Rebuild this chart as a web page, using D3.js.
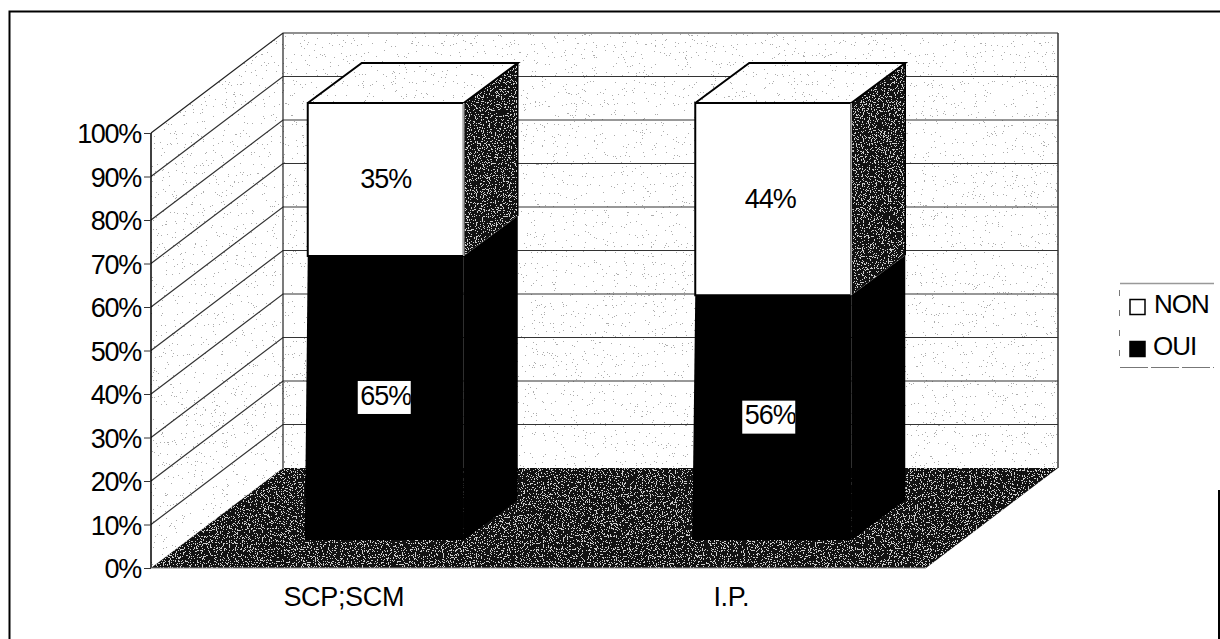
<!DOCTYPE html>
<html><head><meta charset="utf-8">
<script src="https://cdnjs.cloudflare.com/ajax/libs/d3/7.8.5/d3.min.js"></script>
<style>html,body{margin:0;padding:0;background:#fff}svg{display:block}text{font-family:"Liberation Sans",Arial,sans-serif;fill:#000}</style>
</head><body><div id="c"></div>
<script>
const categories = ["SCP;SCM", "I.P."];
const oui = [65, 56];
const non = [35, 44];
const legendLabels = ["NON", "OUI"];
const tickValues = [0,10,20,30,40,50,60,70,80,90,100];

const W=1220,H=639;
const svg=d3.select("#c").append("svg").attr("width",W).attr("height",H);
const defs=svg.append("defs");
function noise(id,seed,freq,thr,grey){
  const slope=-5, a=0.5+5*thr;
  const f=defs.append("filter").attr("id",id).attr("x",0).attr("y",0).attr("width","100%").attr("height","100%").attr("color-interpolation-filters","sRGB");
  f.append("feTurbulence").attr("type","fractalNoise").attr("baseFrequency",freq).attr("numOctaves",2).attr("seed",seed).attr("result","n");
  f.append("feColorMatrix").attr("in","n").attr("type","matrix")
   .attr("values",`0 0 0 0 ${grey} 0 0 0 0 ${grey} 0 0 0 0 ${grey} ${slope} 0 0 0 ${a}`).attr("result","s");
  f.append("feComponentTransfer").attr("in","s").attr("result","t").append("feFuncA").attr("type","discrete").attr("tableValues","0 1");
  f.append("feComposite").attr("in","t").attr("in2","SourceGraphic").attr("operator","in").attr("result","d");
  const m=f.append("feMerge");
  m.append("feMergeNode").attr("in","SourceGraphic");
  m.append("feMergeNode").attr("in","d");
}
noise("darkStipple",3,0.85,0.40,0.8);
noise("lightStipple",7,0.9,0.265,0.68);

// scales
const y=d3.scaleLinear().domain([0,100]).range([568,133]);
const yBar=d3.scaleLinear().domain([0,100]).range([540,103]);
const x=d3.scaleBand().domain(categories).range([150,925]);
const depth={dx:132,dy:-100};
const bar={dx:54,dy:-40,w:156,off:42};
const line=d3.line();
const poly=(g,pts,fill,stroke,sw,filter)=>{
  const p=g.append("path").attr("d",line(pts)+"Z").attr("fill",fill).attr("stroke",stroke||"none").attr("stroke-width",sw||0).attr("stroke-linejoin","miter");
  if(filter)p.attr("filter",`url(#${filter})`);
  return p;
};
const g=svg.append("g");
// outer frame
g.append("path").attr("d","M9.5,639V11.5H1220").attr("fill","none").attr("stroke","#000").attr("stroke-width",2);
g.append("path").attr("d","M1219,490V639").attr("fill","none").attr("stroke","#000").attr("stroke-width",2);

const x0=151,x1=926;
// walls
poly(g,[[x0,y(0)],[x0,y(100)],[x0+depth.dx,y(100)+depth.dy],[x0+depth.dx,y(0)+depth.dy]],"#fff",null,0,"lightStipple");
poly(g,[[x0+depth.dx,y(100)+depth.dy],[x1+depth.dx,y(100)+depth.dy],[x1+depth.dx,y(0)+depth.dy],[x0+depth.dx,y(0)+depth.dy]],"#fff",null,0,"lightStipple");
// floor
poly(g,[[x0,y(0)],[x0+depth.dx,y(0)+depth.dy],[x1+depth.dx,y(0)+depth.dy],[x1,y(0)]],"#111",null,0,"darkStipple");
// gridlines
tickValues.slice(1).forEach(t=>{
  g.append("path").attr("d",line([[x0,y(t)],[x0+depth.dx,y(t)+depth.dy],[x1+depth.dx,y(t)+depth.dy]])).attr("fill","none")
   .attr("stroke",t===100?"#222":"#333").attr("stroke-width",1.2);
});
// wall frame
g.append("path").attr("d",line([[x0,y(100)],[x0,y(0)]])).attr("stroke","#000").attr("stroke-width",1.5).attr("fill","none");
g.append("path").attr("d",line([[x0+depth.dx,y(100)+depth.dy],[x0+depth.dx,y(0)+depth.dy]])).attr("stroke","#222").attr("stroke-width",1.2).attr("fill","none");
g.append("path").attr("d",line([[x1+depth.dx,y(100)+depth.dy],[x1+depth.dx,y(0)+depth.dy]])).attr("stroke","#333").attr("stroke-width",1.5).attr("fill","none");
g.append("path").attr("d",line([[x0,y(0)],[x1,y(0)]])).attr("stroke","#888").attr("stroke-width",1).attr("fill","none");
// axis ticks + labels
const axis=d3.axisLeft(y).tickValues(tickValues).tickFormat(d=>d+"%").tickSize(7).tickPadding(3);
const ax=g.append("g").attr("transform",`translate(${x0},0)`).call(axis);
ax.select(".domain").remove();
ax.selectAll("line").attr("stroke","#333");
ax.selectAll("text").attr("font-size",27).attr("letter-spacing",-1.3).attr("dy","0.36em").style("font-family",'"Liberation Sans",Arial,sans-serif');
// category labels
g.selectAll(".cat").data(categories).join("text").attr("class","cat")
  .attr("x",d=>x(d)+x.bandwidth()/2).attr("y",606).attr("text-anchor","middle")
  .attr("font-size",27).attr("letter-spacing",-0.35).text(d=>d);
// bars
const label=[];
categories.forEach((c,i)=>{
  const cx=x(c)+x.bandwidth()/2+bar.off, L=cx-bar.w/2, R=cx+bar.w/2;
  const yy=v=>yBar(v);
  const top=oui[i]+non[i], split=oui[i], b=yy(0);
  poly(g,[[R,yy(split)],[R+bar.dx,yy(split)+bar.dy],[R+bar.dx,yy(top)+bar.dy],[R,yy(top)]],"#111",null,0,"darkStipple");
  poly(g,[[R,b],[R+bar.dx,b+bar.dy],[R+bar.dx,yy(split)+bar.dy],[R,yy(split)]],"#000");
  poly(g,[[L-3,b],[R,b],[R,yy(split)],[L,yy(split)]],"#000");
  poly(g,[[L,yy(split)],[R,yy(split)],[R,yy(top)],[L,yy(top)]],"#fff","#000",2);
  poly(g,[[L,yy(top)],[R,yy(top)],[R+bar.dx,yy(top)+bar.dy],[L+bar.dx,yy(top)+bar.dy]],"#fff",null,0,"lightStipple");
  g.append("path").attr("d",line([[L,yy(top)],[R,yy(top)],[R+bar.dx,yy(top)+bar.dy],[L+bar.dx,yy(top)+bar.dy],[L,yy(top)]])).attr("fill","none").attr("stroke","#000").attr("stroke-width",2);
  g.append("path").attr("d",line([[R,yy(top)],[R,yy(split)]])).attr("stroke","#aaa").attr("stroke-width",1.5);
  g.append("path").attr("d",line([[R+bar.dx,yy(top)+bar.dy],[R+bar.dx,yy(split)+bar.dy]])).attr("stroke","#000").attr("stroke-width",1.5);
  const lx=cx-(i?3:0);
  label.push({t:split+"%",x:lx,y:(b+yy(split))/2-3,box:true,id:"clip"+i});
  label.push({t:non[i]+"%",x:lx,y:(yy(split)+yy(top))/2-1,box:false});
});
label.forEach(l=>{
  if(l.box){
    defs.append("clipPath").attr("id",l.id).append("rect").attr("x",l.x-28).attr("y",l.y-14).attr("width",53).attr("height",33);
    g.append("rect").attr("x",l.x-28).attr("y",l.y-14).attr("width",53).attr("height",33).attr("fill","#fff");
  }
  const t=g.append("text").attr("x",l.x).attr("y",l.y).attr("dy","0.36em").attr("text-anchor","middle").attr("font-size",27).attr("letter-spacing",-1).text(l.t);
  if(l.box)t.attr("clip-path",`url(#${l.id})`);
});
// legend
const lg=g.append("g");
lg.append("path").attr("d","M1120,283.5H1214").attr("stroke","#999").attr("stroke-width",1.5);
lg.append("path").attr("d","M1120,367.5H1214").attr("stroke","#777").attr("stroke-width",1).attr("stroke-dasharray","28 3");
lg.append("path").attr("d","M1119.5,290V366").attr("stroke","#777").attr("stroke-width",1).attr("stroke-dasharray","6 14");
legendLabels.forEach((t,i)=>{
  const cy=[307,349][i];
  lg.append("rect").attr("x",1130).attr("y",cy-7.5).attr("width",15).attr("height",15).attr("fill",i?"#000":"#fff").attr("stroke","#000").attr("stroke-width",1.5);
  lg.append("text").attr("x",1154-(i?1:0)).attr("y",cy-3).attr("dy","0.36em").attr("font-size",26).attr("letter-spacing",-1).text(t);
});
</script></body></html>
